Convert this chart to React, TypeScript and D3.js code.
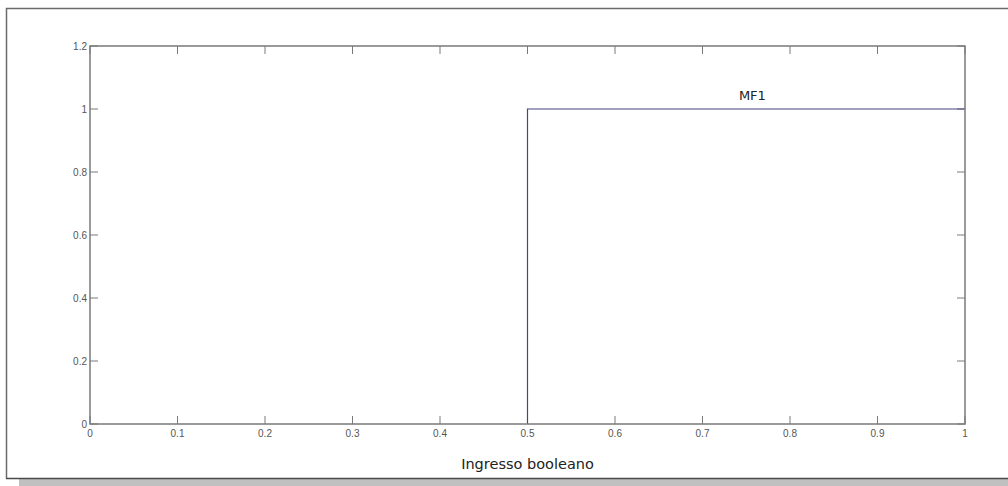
import React from "react";
import * as d3 from "d3";

const xTicks = [0, 0.1, 0.2, 0.3, 0.4, 0.5, 0.6, 0.7, 0.8, 0.9, 1];
const yTicks = [0, 0.2, 0.4, 0.6, 0.8, 1, 1.2];
const mfX = [0, 0.5, 0.5, 1];
const mfY = [0, 0, 1, 1];
const mfName = "MF1";
const mfLabelX = 0.757;
const xLabel = "Ingresso booleano";

export default function App() {
  const W = 1008, H = 486;
  const L = 90, R = 965, T = 46, B = 424;
  const x = d3.scaleLinear().domain([0, 1]).range([L, R]);
  const y = d3.scaleLinear().domain([0, 1.2]).range([B, T]);
  const pts = mfX.map((v, i) => [x(v), y(mfY[i])] as [number, number]).filter((_, i) => i > 0);
  const line = d3.line();
  const axisCol = "#7a7a7a";
  const tl = 8;
  return (
    <div style={{ position: "absolute", left: 0, top: 0 }}>
      <svg width={W} height={H} style={{ display: "block" }}>
        <rect x={0} y={0} width={W} height={H} fill="#fff" />
        <rect x={19} y={479} width={W - 19} height={7} fill="#c0c0c0" />
        <path d={`M6.5,478.5 V8.5 H${W}`} fill="none" stroke="#6b6b6b" strokeWidth={1.5} />
        <line x1={6} x2={W} y1={478.5} y2={478.5} stroke="#4a4a4a" strokeWidth={1.5} />
        {xTicks.map((t) => (
          <g key={"x" + t}>
            <line x1={x(t)} x2={x(t)} y1={B} y2={B - tl} stroke={axisCol} />
            <line x1={x(t)} x2={x(t)} y1={T} y2={T + tl} stroke={axisCol} />
            <text x={x(t)} y={B + 13} textAnchor="middle" fontFamily="Liberation Sans" fontSize={10} fill="#555">{t}</text>
          </g>
        ))}
        {yTicks.map((t) => (
          <g key={"y" + t}>
            <line x1={L} x2={L + tl} y1={y(t)} y2={y(t)} stroke={axisCol} />
            <line x1={R} x2={R - tl} y1={y(t)} y2={y(t)} stroke={axisCol} />
            <text x={L - 3} y={y(t) + 3.5} textAnchor="end" fontFamily="Liberation Sans" fontSize={10} fill="#555">{t}</text>
          </g>
        ))}
        <path d={line(pts) || ""} fill="none" stroke="#45457f" strokeWidth={1.2} />
        <rect x={L} y={T} width={R - L} height={B - T} fill="none" stroke={axisCol} strokeWidth={1.5} />
        <text x={x(mfLabelX)} y={y(1) - 9} textAnchor="middle" fontFamily="DejaVu Sans" fontSize={13} fill="#222">{mfName}</text>
        <text x={(L + R) / 2} y={B + 45} textAnchor="middle" fontFamily="DejaVu Sans" fontSize={14.5} fill="#222">{xLabel}</text>
      </svg>
    </div>
  );
}
